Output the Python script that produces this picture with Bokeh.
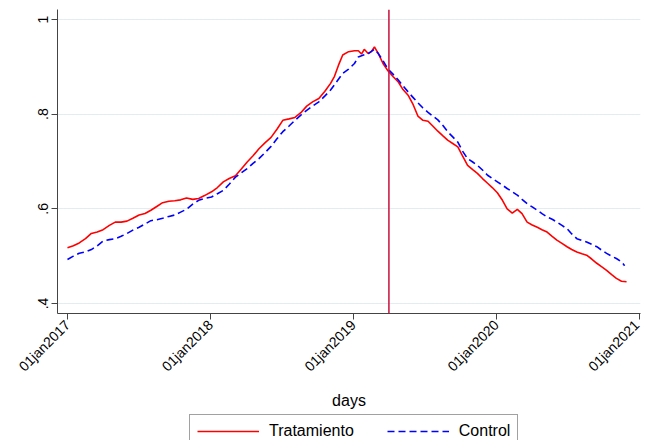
import pandas as pd
from bokeh.plotting import figure
from bokeh.layouts import column
from bokeh.models import FixedTicker, Legend, LegendItem, Span, Range1d, ColumnDataSource
from bokeh.embed import file_html
from bokeh.resources import INLINE

# ---------------- data ----------------
base_date = "2017-01-01"
series_names = ["Tratamiento", "Control"]

red_days = [0, 15, 30, 46, 61, 76, 91, 107, 122, 137, 152, 167, 183, 198, 213, 228, 243, 259, 274, 289,
            304, 320, 335, 350, 368, 383, 398, 413, 429, 444, 459, 474, 489, 505, 520, 535, 550, 566, 581,
            596, 611, 626, 642, 657, 672, 682, 692, 703, 718, 733, 743, 751, 758, 768, 776, 784, 794, 806,
            819, 832, 845, 857, 870, 883, 895, 908, 921, 933, 946, 959, 971, 984, 997, 1009, 1022, 1035,
            1047, 1060, 1073, 1085, 1098, 1111, 1123, 1136, 1149, 1161, 1174, 1187, 1200, 1212, 1225, 1238,
            1250, 1263, 1276, 1288, 1301, 1314, 1326, 1339, 1352, 1364, 1377, 1390, 1402, 1415, 1428]
red_vals = [0.518, 0.522, 0.528, 0.537, 0.548, 0.551, 0.556, 0.565, 0.572, 0.572, 0.574, 0.580, 0.587, 0.590,
            0.597, 0.605, 0.613, 0.616, 0.617, 0.619, 0.623, 0.620, 0.622, 0.628,
            0.636, 0.645, 0.657, 0.664, 0.670, 0.684, 0.699, 0.712, 0.727, 0.740, 0.751, 0.768, 0.787, 0.790,
            0.793, 0.803, 0.817, 0.826, 0.833, 0.848, 0.865,
            0.880, 0.903, 0.925,
            0.932, 0.934, 0.934, 0.927, 0.937, 0.928, 0.932, 0.942, 0.928,
            0.907, 0.891, 0.879, 0.868, 0.852, 0.840, 0.820, 0.796, 0.787, 0.785,
            0.775, 0.764, 0.754, 0.745, 0.738, 0.731, 0.712, 0.692, 0.683, 0.675,
            0.664, 0.654, 0.645, 0.634, 0.618, 0.600, 0.591, 0.599, 0.590, 0.572,
            0.566, 0.561, 0.556, 0.551, 0.542, 0.534, 0.527, 0.520, 0.514, 0.509,
            0.505, 0.502, 0.494, 0.485, 0.478, 0.470, 0.461, 0.453, 0.447, 0.446]

blue_days = [0, 15, 30, 46, 61, 76, 91, 107, 122, 137, 152, 167, 183, 198, 213, 228, 243, 259, 274, 289,
             304, 320, 335, 350, 368, 383, 398, 413, 429, 444, 459, 474, 489, 505, 520, 535, 550, 566, 581,
             596, 611, 626, 642, 657, 672, 687, 703, 718, 733, 743, 756, 768, 784, 794,
             806, 819, 832, 845, 857, 870, 883, 895, 908, 921, 933, 946, 959, 971, 984, 997, 1009, 1022,
             1035, 1047, 1060, 1073, 1085, 1098, 1111, 1123, 1136, 1149, 1161, 1174, 1187, 1200, 1212, 1225,
             1238, 1250, 1263, 1276, 1288, 1301, 1314, 1326, 1339, 1352, 1364, 1377, 1390, 1402, 1415, 1423]
blue_vals = [0.493, 0.500, 0.506, 0.509, 0.514, 0.522, 0.532, 0.535, 0.537, 0.542, 0.548, 0.555, 0.561, 0.568,
             0.575, 0.577, 0.580, 0.584, 0.587, 0.593, 0.599, 0.610, 0.618, 0.622,
             0.625, 0.632, 0.639, 0.652, 0.667, 0.676, 0.685, 0.696, 0.706, 0.719, 0.732, 0.748, 0.763, 0.775,
             0.787, 0.798, 0.808, 0.817, 0.826, 0.838, 0.851,
             0.868, 0.886, 0.895, 0.907, 0.921, 0.925, 0.928, 0.937, 0.928,
             0.913, 0.895, 0.884, 0.872, 0.860, 0.847, 0.835, 0.824, 0.813, 0.804,
             0.796, 0.788, 0.776, 0.763, 0.752, 0.741, 0.722, 0.706, 0.699, 0.692,
             0.682, 0.671, 0.664, 0.657, 0.650, 0.643, 0.636, 0.629, 0.620, 0.611,
             0.604, 0.597, 0.590, 0.583, 0.578, 0.572, 0.565, 0.558, 0.547, 0.537,
             0.533, 0.530, 0.525, 0.520, 0.513, 0.506, 0.500, 0.495, 0.488, 0.480]

x_tick_dates = ["2017-01-01", "2018-01-01", "2019-01-01", "2020-01-01", "2021-01-01"]
x_tick_labels = ["01jan2017", "01jan2018", "01jan2019", "01jan2020", "01jan2021"]
y_ticks = [0.4, 0.6, 0.8, 1.0]
y_tick_labels = [".4", ".6", ".8", "1"]
cutoff_date = "2019-04-02"
x_axis_title = "days"

# ---------------- build ----------------
FONT = "Liberation Sans"
RED = "#ff0000"
BLUE = "#0000ff"
DASH = "7 4"
base = pd.Timestamp(base_date)
red_dates = [base + pd.Timedelta(days=d) for d in red_days]
blue_dates = [base + pd.Timedelta(days=d) for d in blue_days]

def to_ms(ts):
    return pd.Timestamp(ts).value // 10**6

x_start = base - pd.Timedelta(days=25.5)
x_end = base + pd.Timedelta(days=1463.6)

p = figure(width=642, height=413, x_axis_type="datetime",
           output_backend="svg", toolbar_location=None,
           x_range=Range1d(x_start, x_end), y_range=Range1d(0.3789, 1.0211),
           min_border_left=57, min_border_right=2, min_border_top=9, min_border_bottom=100)
p.outline_line_color = None
p.background_fill_color = "white"
p.border_fill_color = "white"

src_r = ColumnDataSource(dict(x=red_dates, y=red_vals))
src_b = ColumnDataSource(dict(x=blue_dates, y=blue_vals))
p.line("x", "y", source=src_r, line_color=RED, line_width=1.6)
p.line("x", "y", source=src_b, line_color=BLUE, line_width=1.6, line_dash=DASH)

p.add_layout(Span(location=to_ms(cutoff_date), dimension="height",
                  line_color="#c8103c", line_width=1.5))

# grid
p.xgrid.visible = False
p.ygrid.grid_line_color = "#e3ecef"
p.ygrid.grid_line_width = 1
p.ygrid.ticker = FixedTicker(ticks=y_ticks)

# x axis
xa = p.xaxis[0]
xtick_ms = [to_ms(d) for d in x_tick_dates]
xa.ticker = FixedTicker(ticks=xtick_ms)
xa.major_label_overrides = {t: l for t, l in zip(xtick_ms, x_tick_labels)}
xa.major_label_orientation = 0.785398
xa.major_label_text_font = FONT
xa.major_label_text_font_size = "14px"
xa.major_label_text_color = "black"
xa.major_label_standoff = 3
xa.major_tick_out = 6
xa.major_tick_in = 0
xa.minor_tick_out = 0
xa.minor_tick_in = 0
xa.axis_line_color = "#444444"
xa.major_tick_line_color = "#444444"
xa.axis_label = x_axis_title
xa.axis_label_text_font = FONT
xa.axis_label_text_font_size = "16px"
xa.axis_label_text_font_style = "normal"
xa.axis_label_text_color = "black"
xa.axis_label_standoff = 9

# y axis
ya = p.yaxis[0]
ya.ticker = FixedTicker(ticks=y_ticks)
ya.major_label_overrides = {t: l for t, l in zip(y_ticks, y_tick_labels)}
ya.major_label_orientation = "vertical"
ya.major_label_text_font = FONT
ya.major_label_text_font_size = "14px"
ya.major_label_text_color = "black"
ya.major_label_standoff = 3
ya.major_tick_out = 6
ya.major_tick_in = 0
ya.minor_tick_out = 0
ya.minor_tick_in = 0
ya.axis_line_color = "#444444"
ya.major_tick_line_color = "#444444"

# legend strip (separate figure so the legend is not clipped by the plot frame);
# the same series are drawn there but fall outside its range, so only the legend shows
pl = figure(width=642, height=27, output_backend="svg", toolbar_location=None,
            x_axis_location=None, y_axis_location=None, min_border=0,
            x_range=Range1d(0, 1), y_range=Range1d(0, 1))
pl.outline_line_color = None
pl.grid.visible = False
pl.border_fill_color = "white"
pl.background_fill_color = "white"
lr1 = pl.line("x", "y", source=src_r, line_color=RED, line_width=1.6)
lr2 = pl.line("x", "y", source=src_b, line_color=BLUE, line_width=1.6, line_dash=DASH)
legend = Legend(items=[LegendItem(label=series_names[0], renderers=[lr1]),
                       LegendItem(label=series_names[1], renderers=[lr2])],
                orientation="horizontal", location=(132, -8),
                glyph_width=62, glyph_height=14, label_height=14, label_standoff=10, spacing=33,
                padding=7, margin=0,
                border_line_color="#444444", border_line_width=1,
                label_text_font=FONT, label_text_font_size="16px", label_text_color="black",
                background_fill_color="white")
pl.add_layout(legend, "center")

layout = column(p, pl, spacing=0)
open("out.html", "w").write(file_html(layout, INLINE))
